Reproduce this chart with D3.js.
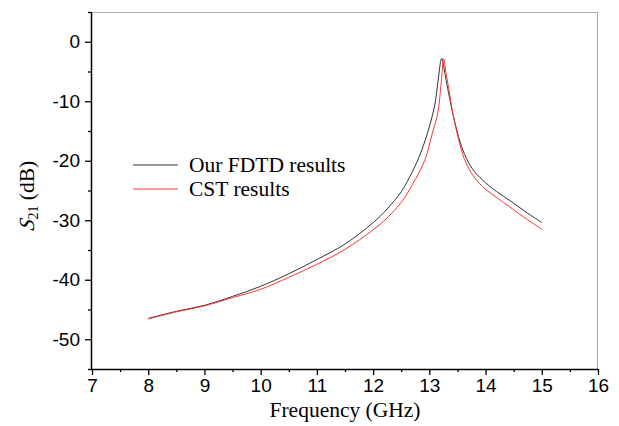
<!DOCTYPE html>
<html><head><meta charset="utf-8">
<script src="https://cdn.jsdelivr.net/npm/d3@7"></script>
<style>body{margin:0;background:#fff}</style>
</head><body>
<svg id="c" width="619" height="426"></svg>
<script>
const xTicks = [7,8,9,10,11,12,13,14,15,16];
const yTicks = [0,-10,-20,-30,-40,-50];
const seriesNames = ["Our FDTD results","CST results"];
const fdtdFreq = [8.0,8.5,9.0,9.5,10.0,10.5,11.0,11.5,12.0,12.25,12.5,12.7,12.85,13.0,13.1,13.15,13.22,13.28,13.34,13.43,13.55,13.66,13.8,14.0,14.2,14.435,14.7,15.0];
const fdtdS21 = [-46.5,-45.3,-44.3,-42.8,-41.1,-39.0,-36.6,-34.0,-30.4,-28.1,-25.2,-21.8,-18.6,-14.3,-10.5,-7.0,-2.8,-5.5,-8.5,-12.6,-16.9,-19.6,-21.8,-23.7,-25.2,-26.7,-28.5,-30.4];
const cstFreq = [8.0,8.5,9.0,9.5,10.0,10.5,11.0,11.5,12.0,12.25,12.5,12.7,12.92,13.05,13.15,13.21,13.256,13.3,13.34,13.43,13.62,13.8,14.0,14.2,14.435,14.7,15.0];
const cstS21 = [-46.6,-45.4,-44.4,-43.0,-41.6,-39.6,-37.4,-34.9,-31.6,-29.6,-27.0,-24.0,-19.9,-15.5,-12.0,-7.0,-2.85,-5.5,-7.5,-12.6,-19.6,-22.8,-24.8,-26.2,-27.8,-29.6,-31.5];
const colors = ["#333333","#ff3333"];

const svg = d3.select("#c");
const L=92, R=598, T=12, B=369;
const x = d3.scaleLinear().domain([7,16]).range([L,R]);
const y = d3.scaleLinear().domain([-55,5]).range([B,T]);

svg.append("line").attr("x1",L).attr("x2",R).attr("y1",T+0.5).attr("y2",T+0.5).attr("stroke","#aaa");
svg.append("line").attr("x1",R-0.5).attr("x2",R-0.5).attr("y1",T).attr("y2",B).attr("stroke","#aaa");

const xMinor = d3.range(7.5,16,1);
const yMinor = d3.range(-55,5.1,10);
const fmt = d => String(d);
const gx = svg.append("g").attr("transform",`translate(0,${B})`)
  .call(d3.axisBottom(x).tickValues(xTicks).tickSize(6).tickPadding(4).tickFormat(fmt));
svg.append("g").attr("transform",`translate(0,${B})`)
  .call(d3.axisBottom(x).tickValues(xMinor).tickSize(3).tickFormat(""))
  .select(".domain").remove();
const gy = svg.append("g").attr("transform",`translate(${L},0)`)
  .call(d3.axisLeft(y).tickValues(yTicks).tickSize(7).tickPadding(5).tickFormat(fmt));
svg.append("g").attr("transform",`translate(${L},0)`)
  .call(d3.axisLeft(y).tickValues(yMinor).tickSize(4).tickFormat(""))
  .select(".domain").remove();
svg.selectAll(".domain").attr("stroke","#000").attr("stroke-width",1.5);
svg.selectAll(".tick line").attr("stroke","#000").attr("stroke-width",1.3);
gx.selectAll("text").attr("font-family","'Liberation Sans', Arial, sans-serif").attr("font-size",19).attr("fill","#000");
gy.selectAll("text").attr("font-family","'Liberation Sans', Arial, sans-serif").attr("font-size",19).attr("fill","#000");
gx.selectAll(".domain").attr("d",`M${L},0.5H${R}`);
gy.selectAll(".domain").attr("d",`M-0.5,${T}V${B}`);

const line = d3.line().x(d=>x(d[0])).y(d=>y(d[1])).curve(d3.curveCatmullRom.alpha(0.5));
const data = [d3.zip(fdtdFreq,fdtdS21), d3.zip(cstFreq,cstS21)];
data.forEach((d,i)=>{
  svg.append("path").datum(d).attr("d",line).attr("fill","none")
    .attr("stroke",colors[i]).attr("stroke-width",1);
});

const serif = "'Liberation Serif', 'Times New Roman', serif";
seriesNames.forEach((n,i)=>{
  const yy = 165 + i*24;
  svg.append("line").attr("x1",133).attr("x2",178).attr("y1",yy).attr("y2",yy).attr("stroke",colors[i]).attr("stroke-width",1);
  svg.append("text").attr("x",189).attr("y",yy+7).attr("font-family",serif)
    .attr("font-size",21.5).attr("fill","#000").text(n);
});

svg.append("text").attr("x",345).attr("y",417).attr("text-anchor","middle")
  .attr("font-family",serif).attr("font-size",21.5).text("Frequency (GHz)");

// y title: italic S (skewed), subscript 21, (dB)
const yg = svg.append("g").attr("transform","translate(34,196) rotate(-90)");
const sT = yg.append("text").attr("font-family",serif).attr("font-size",21.5).attr("font-style","italic").text("S");
const rT = yg.append("text").attr("font-family",serif).attr("font-size",21.5);
rT.append("tspan").attr("font-size",14).attr("dy",4).text("21");
rT.append("tspan").attr("dy",-4).text(" (dB)");
const sw = sT.node().getComputedTextLength();
const rw = rT.node().getComputedTextLength();
const x0 = -(sw+rw+1)/2;
sT.attr("transform",`translate(${x0},0) skewX(-14)`);
rT.attr("x",x0+sw+1);
</script>
</body></html>
